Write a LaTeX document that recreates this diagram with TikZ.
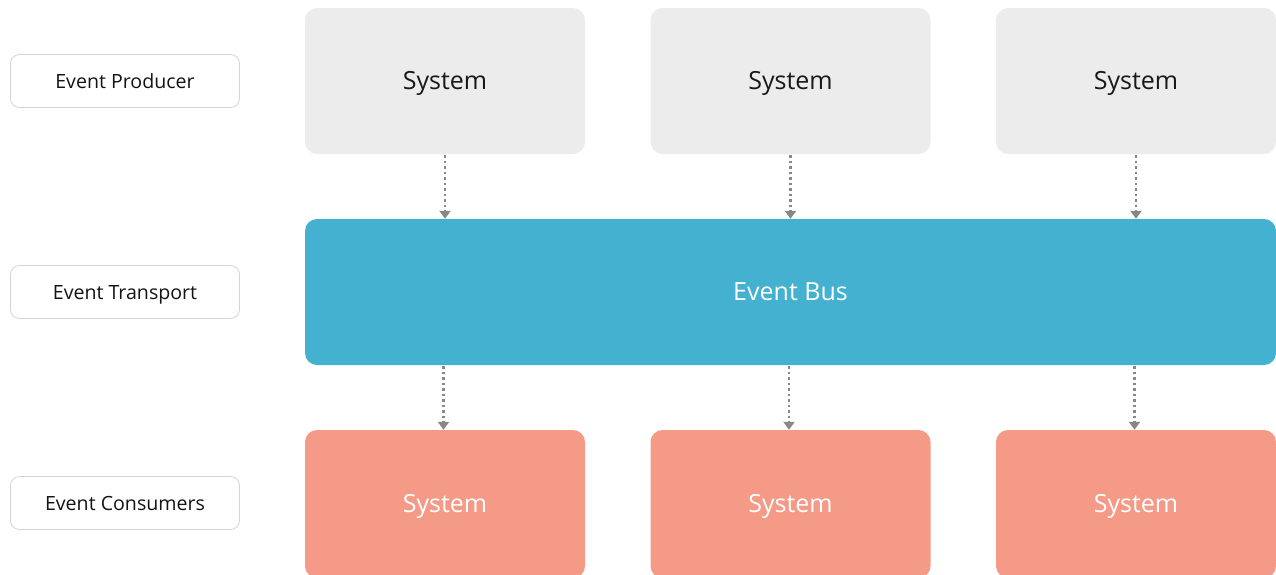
\documentclass[tikz,border=0pt]{standalone}
\usepackage{fontspec}
\setmainfont{Open Sans}
\usetikzlibrary{arrows.meta}
\definecolor{prodgray}{HTML}{ECECEC}
\definecolor{busblue}{HTML}{43B1CF}
\definecolor{salmon}{HTML}{F49A86}
\definecolor{edgegray}{HTML}{D4D4D4}
\definecolor{flowgray}{HTML}{888888}
\tikzset{
  layerlabel/.style={draw=edgegray, line width=0.8pt, fill=white, rounded corners=9pt,
    minimum width=229pt, minimum height=53pt, inner sep=0pt,
    text height=14pt, text depth=0pt,
    font=\fontsize{19.6}{22}\selectfont, text=black!92},
  bigbox/.style={rounded corners=12pt, inner sep=0pt,
    text height=17.85pt, text depth=0pt, font=\fontsize{25}{28}\selectfont},
  producer/.style={bigbox, fill=prodgray, minimum width=280pt,
    minimum height=146pt, text=black!90},
  consumer/.style={bigbox, fill=salmon, minimum width=280pt,
    minimum height=148pt, text=white},
  bus/.style={bigbox, fill=busblue, minimum width=971pt,
    minimum height=146pt, text=white},
  flow/.style={draw=flowgray, line width=2.6pt, dash pattern=on 2.6pt off 2.9pt,
    -{Triangle[width=11pt,length=8pt,fill=flowgray]}, shorten >=0pt}
}
\begin{document}
\begin{tikzpicture}[x=1pt,y=-1pt]
  \useasboundingbox (0,0) rectangle (1276,574);
  \clip (0,0) rectangle (1276,574);

  % layer captions
  \node[layerlabel] (lp) at (125,81) {Event Producer};
  \node[layerlabel] (lt) at (125,292) {Event Transport};
  \node[layerlabel] (lc) at (125,503) {Event Consumers};

  % producers
  \node[producer] (p1) at (445,81) {System};
  \node[producer] (p2) at (790.5,81) {System};
  \node[producer] (p3) at (1136,81) {System};

  % transport
  \node[bus] (bus) at (790.5,292) {Event Bus};

  % consumers (the text sits at the same height as the captions)
  \node[consumer] (c1) at (445,504) {System};
  \node[consumer] (c2) at (790.5,504) {System};
  \node[consumer] (c3) at (1136,504) {System};

  % event flow
  \draw[flow] ([yshift=-1pt]p1.south) -- (p1.south |- bus.north);
  \draw[flow] ([yshift=-1pt]p2.south) -- (p2.south |- bus.north);
  \draw[flow] ([yshift=-1pt]p3.south) -- (p3.south |- bus.north);
  \draw[flow] ([xshift=-1.5pt,yshift=-1pt]c1.north |- bus.south) -- ([xshift=-1.5pt]c1.north);
  \draw[flow] ([xshift=-1.5pt,yshift=-1pt]c2.north |- bus.south) -- ([xshift=-1.5pt]c2.north);
  \draw[flow] ([xshift=-1.5pt,yshift=-1pt]c3.north |- bus.south) -- ([xshift=-1.5pt]c3.north);
\end{tikzpicture}
\end{document}
